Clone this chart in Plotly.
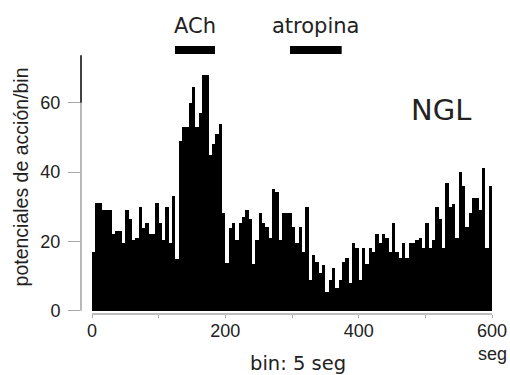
import plotly.graph_objects as go

# Spike counts per 5-s bin (0-600 s)
bin_width = 5
counts = [
    17, 31, 31, 29, 29, 29, 22, 23, 23, 19.5,
    29, 26.4, 20.4, 21, 30, 24, 25.4, 22, 22, 31,
    25.4, 20.4, 30, 19.4, 33, 15, 49, 53, 53, 60,
    64.6, 53, 57, 68, 68, 45, 48, 51, 54, 28.1,
    13.7, 23.8, 25.4, 20.4, 25.4, 27.1, 29, 26.4, 13.6, 20.4,
    28.1, 25.4, 24.1, 21.1, 35, 34.1, 20.4, 28.1, 28.1, 28.1,
    24.1, 19.4, 24.1, 17, 30, 9, 16.1, 14.1, 11, 13.2,
    5.5, 9, 12.2, 6.5, 9, 14.1, 15.1, 8.1, 19.4, 18,
    9, 18, 13.6, 18, 17, 22.1, 19.4, 22.1, 21.1, 17,
    25.4, 17, 15.1, 19.4, 15.1, 19.4, 19.4, 20.4, 21.1, 18,
    25.4, 18, 20.4, 30, 26.4, 18, 36.9, 30, 30.8, 21.1,
    40.1, 36, 24.1, 28.1, 32.4, 32.4, 29, 41.1, 18, 36,
]
bin_centers = [bin_width * i + bin_width / 2 for i in range(len(counts))]

# Drug application intervals (s)
drug_labels = ["ACh", "atropina"]
drug_start = [124.5, 297]
drug_end = [184.5, 374.5]

x_ticks = [0, 100, 200, 300, 400, 500, 600]
x_ticktext = ["0", "", "200", "", "400", "", "600"]
y_ticks = [0, 20, 40, 60]

X_MIN, X_MAX = -16.5, 600
Y_MIN, Y_MAX = -0.95, 74.05
AXIS_TOP = 73.7

fig = go.Figure()
fig.add_trace(go.Bar(
    x=bin_centers, y=counts, width=bin_width,
    marker=dict(color="#000000", line=dict(width=0)),
    hoverinfo="skip",
))

gray = "#a8a8a8"
shapes = []
shapes.append(dict(type="line", xref="x", yref="paper", x0=0, x1=600, y0=0, y1=0,
                   line=dict(color=gray, width=1.6)))
shapes.append(dict(type="line", xref="paper", yref="y", x0=0, x1=0, y0=0, y1=60,
                   line=dict(color=gray, width=1.6)))
shapes.append(dict(type="line", xref="paper", yref="y", x0=0, x1=0, y0=60, y1=AXIS_TOP,
                   line=dict(color="#111111", width=1.6)))
for s, e in zip(drug_start, drug_end):
    shapes.append(dict(type="rect", xref="x", yref="paper", x0=s, x1=e,
                       y0=1.0, y1=1.031, fillcolor="#000000", line=dict(width=0)))

annotations = []
for lab, s, e in zip(drug_labels, drug_start, drug_end):
    annotations.append(dict(text=lab, x=(s + e) / 2, xref="x", y=1.108, yref="paper",
                            showarrow=False, xanchor="center", yanchor="middle",
                            font=dict(family="DejaVu Sans", size=21, color="#222222")))
annotations.append(dict(text="NGL", x=0.875, xref="paper", y=0.785, yref="paper",
                        showarrow=False, xanchor="center", yanchor="middle",
                        font=dict(family="DejaVu Sans", size=29, color="#222222")))
annotations.append(dict(text="bin: 5 seg", x=309, xref="x", y=-0.19, yref="paper",
                        showarrow=False, xanchor="center", yanchor="middle",
                        font=dict(family="DejaVu Sans", size=19.5, color="#222222")))
annotations.append(dict(text="seg", x=600, xref="x", y=-0.152, yref="paper",
                        showarrow=False, xanchor="center", yanchor="middle",
                        font=dict(family="Liberation Sans", size=18, color="#222222")))
annotations.append(dict(text="potenciales de acción/bin", x=-0.146, xref="paper",
                        y=0.529, yref="paper", textangle=-90,
                        showarrow=False, xanchor="center", yanchor="middle",
                        font=dict(family="Liberation Sans", size=19.5, color="#222222")))

fig.update_layout(
    width=510, height=375, autosize=False,
    margin=dict(l=81, r=18, t=54, b=61, pad=0),
    paper_bgcolor="white", plot_bgcolor="white",
    showlegend=False, bargap=0,
    shapes=shapes, annotations=annotations,
    xaxis=dict(range=[X_MIN, X_MAX], tickvals=x_ticks, ticktext=x_ticktext,
               ticks="outside", ticklen=3, tickwidth=1.2, tickcolor=gray,
               showline=False, showgrid=False, zeroline=False, automargin=False,
               tickfont=dict(family="Liberation Sans", size=18, color="#222222"),
               ticklabelstandoff=-3),
    yaxis=dict(range=[Y_MIN, Y_MAX], tickvals=y_ticks,
               ticks="outside", ticklen=12, tickwidth=1.2, tickcolor=gray,
               showline=False, showgrid=False, zeroline=False, automargin=False,
               tickfont=dict(family="Liberation Sans", size=18, color="#222222"),
               ticklabelstandoff=4),
)

fig.write_html(
    "out.html",
    config={"displayModeBar": False, "responsive": False},
    post_script="document.documentElement.style.overflow='hidden';"
                "document.body.style.margin='0';",
)
